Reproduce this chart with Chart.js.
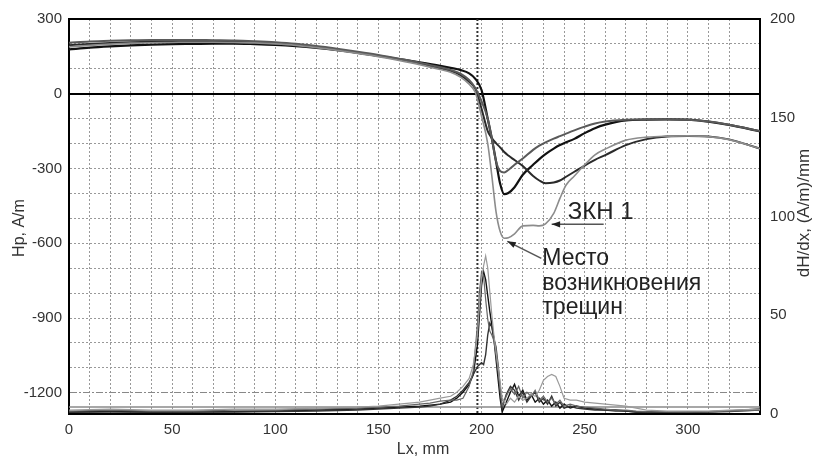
<!DOCTYPE html>
<html>
<head>
<meta charset="utf-8">
<script src="https://cdn.jsdelivr.net/npm/chart.js@4.4.1/dist/chart.umd.min.js"></script>
<style>
  html, body { margin: 0; padding: 0; background: #fff; }
  #wrap { width: 814px; height: 459px; position: relative; }
</style>
</head>
<body>
<div id="wrap"><canvas id="chart"></canvas></div>
<script>
// Hp curves, A/m (left axis)
const hx   = [0,10,20,30,40,50,60,70,80,90,100,110,120,130,140,150,160,170,180,185,190,194,197,200,203,205,207,209,211,213,216,220,225,228,231,235,238,241,245,250,255,260,270,280,290,300,310,320,335];
const hpA  = [178,185,190,194,197,199,200,201,201,199,196,191,184,175,164,152,139,126,112,104,95,82,60,15,-100,-180,-270,-360,-403,-398,-375,-325,-285,-262,-242,-220,-206,-195,-181,-158,-138,-124,-107,-104,-103,-104,-112,-125,-151];
const hpB  = [205,210,213,215,216,216,216,215,214,211,207,201,192,181,169,156,141,125,106,96,80,55,22,-30,-100,-180,-270,-310,-316,-306,-285,-260,-225,-208,-195,-180,-170,-160,-147,-132,-119,-111,-104,-102,-102,-104,-111,-124,-150];
const hpC  = [195,200,204,207,209,210,210,210,209,207,203,197,188,177,165,152,137,121,102,92,74,48,20,-60,-150,-178,-198,-215,-234,-248,-266,-290,-330,-348,-359,-356,-348,-333,-313,-288,-265,-246,-206,-182,-171,-169,-171,-183,-220];
const hpD  = [188,194,199,203,205,206,207,207,206,204,200,194,185,174,162,149,134,117,97,86,66,38,5,-90,-200,-330,-472,-552,-580,-578,-562,-530,-528,-530,-522,-480,-420,-366,-330,-285,-245,-222,-186,-174,-170,-169,-172,-184,-220];

// dH/dx curves, (A/m)/mm (right axis)
const dx = [0,20,40,60,80,100,120,140,150,160,170,175,180,185,188,191,194,196,198,199,200,201,202,203,204,205,206,207,208,209,210,212,214,216,218,220,222,224,226,228,230,232,234,236,238,240,243,246,250,255,260,265,270,275,280,290,300,310,320,335];
const dA = [1,1.5,1,1,1.2,1.5,2,2.5,3,3.5,4,4.5,5,6,8,11,15,20,35,50,65,72,68,60,52,45,38,28,18,8,1,6,11,15,9,12,7,10,6,8,5,7,4,6,3,5,3,4,3,2.5,2,2,1.5,1,1,0.8,1,1.2,1.5,2.5];
const dB = [1.5,2,1.5,1.5,2,2,2.5,3,3.5,4,5,5.5,6.5,7,7,8,14,22,45,62,72,70,58,48,42,40,37,30,22,12,4,9,13,10,14,8,11,9,12,7,9,6,8,5,7,4,5,4,3.5,3,2.5,2,2,1.5,1.2,1,1,1.2,1.5,2];
const dC = [2,2.5,2,2,2.5,2.5,3,3.5,4,5,6,7,8,9,11,14,18,25,40,55,68,75,80,74,62,50,40,32,24,16,8,5,8,6,9,7,8,10,9,12,17,19,20,19,14,8,7,7,6,5.5,5,4.5,4,3,2,1.5,1.5,1.5,2,2.5];
const dD = [0.8,1,0.8,1,1,1.2,1.5,2,2.5,3,3.5,4,5,7,9,12,16,20,24,25,26,25,30,40,46,44,38,34,25,14,3,10,14,12,7,11,6,9,11,6,8,5,9,4,6,3,4,3,2.5,2,2,1.5,1.5,1,1,0.8,0.8,1,1.2,2];

// reference level and crack position
const levelX = [0, 335];
const levelY = [3.5, 3.5];
const crackX = 198;

// tick labels
const xTickLabels = [0, 50, 100, 150, 200, 250, 300];
const hpTickLabels = [300, 0, -300, -600, -900, -1200];

const tickFont = { family: "'Liberation Sans', Arial, sans-serif", size: 15 };
const textFont = "'Liberation Sans', Arial, sans-serif";

function pts(xs, ys) {
    return xs.map((x, i) => ({ x: x, y: ys[i] }));
}

function arrow(ctx, x1, y1, x2, y2) {
    const a = Math.atan2(y2 - y1, x2 - x1);
    ctx.beginPath();
    ctx.moveTo(x1, y1);
    ctx.lineTo(x2, y2);
    ctx.stroke();
    ctx.beginPath();
    ctx.moveTo(x2, y2);
    ctx.lineTo(x2 - 9 * Math.cos(a - 0.35), y2 - 9 * Math.sin(a - 0.35));
    ctx.lineTo(x2 - 9 * Math.cos(a + 0.35), y2 - 9 * Math.sin(a + 0.35));
    ctx.closePath();
    ctx.fill();
}

const overlay = {
    id: 'overlay',
    beforeDatasetsDraw(chart) {
        const { ctx, chartArea, scales: { x } } = chart;
        const px = x.getPixelForValue(crackX);
        ctx.save();
        ctx.strokeStyle = '#333';
        ctx.lineWidth = 2;
        ctx.setLineDash([2, 2]);
        ctx.beginPath();
        ctx.moveTo(px, chartArea.top);
        ctx.lineTo(px, chartArea.bottom);
        ctx.stroke();
        ctx.restore();
    },
    afterDraw(chart) {
        const { ctx, scales: { x, y } } = chart;
        ctx.save();
        ctx.fillStyle = '#333';

        // axis titles
        ctx.font = '16px ' + textFont;
        ctx.textAlign = 'center';
        ctx.textBaseline = 'middle';
        ctx.fillText('Lx, mm', 423, 450);
        ctx.save();
        ctx.translate(20, 228);
        ctx.rotate(-Math.PI / 2);
        ctx.fillText('Hp, A/m', 0, 0);
        ctx.restore();
        ctx.save();
        ctx.font = '17px ' + textFont;
        ctx.translate(804, 213);
        ctx.rotate(-Math.PI / 2);
        ctx.fillText('dH/dx, (A/m)/mm', 0, 0);
        ctx.restore();

        // annotations
        ctx.strokeStyle = '#555';
        ctx.fillStyle = '#222';
        ctx.lineWidth = 1.5;
        ctx.textAlign = 'left';
        ctx.textBaseline = 'alphabetic';

        const zx = x.getPixelForValue(234), zy = y.getPixelForValue(-524);
        arrow(ctx, zx + 52, zy, zx, zy);
        ctx.font = '24px ' + textFont;
        ctx.fillText('ЗКН 1', zx + 16, zy - 5);

        const cx = x.getPixelForValue(212.5), cy = y.getPixelForValue(-592);
        arrow(ctx, cx + 34, cy + 17, cx, cy);
        ctx.font = '23px ' + textFont;
        ctx.fillText('Место', cx + 35, cy + 24);
        ctx.fillText('возникновения', cx + 35, cy + 49);
        ctx.fillText('трещин', cx + 35, cy + 73);
        ctx.restore();
    }
};

const hLine = (data, color, width) => ({
    data: data, yAxisID: 'y', borderColor: color, borderWidth: width,
    pointRadius: 0, cubicInterpolationMode: 'monotone', order: 1
});
const dLine = (data, color, width) => ({
    data: data, yAxisID: 'y2', borderColor: color, borderWidth: width,
    pointRadius: 0, tension: 0, order: 2
});

new Chart(document.getElementById('chart'), {
    type: 'line',
    data: {
        datasets: [
            hLine(pts(hx, hpD), '#8c8c8c', 1.6),
            hLine(pts(hx, hpB), '#5a5a5a', 2),
            hLine(pts(hx, hpC), '#2a2a2a', 2),
            hLine(pts(hx, hpA), '#111111', 2.2),
            dLine(pts(dx, dC), '#9a9a9a', 1.2),
            dLine(pts(dx, dB), '#666666', 1.2),
            dLine(pts(dx, dD), '#333333', 1.4),
            dLine(pts(dx, dA), '#111111', 1.4),
            dLine(pts(levelX, levelY), '#8a8a8a', 1.5)
        ]
    },
    options: {
        responsive: true,
        maintainAspectRatio: false,
        animation: false,
        layout: { padding: { top: 16, left: 0, right: 0, bottom: 0 } },
        plugins: { legend: { display: false }, tooltip: { enabled: false } },
        scales: {
            x: {
                type: 'linear', min: 0, max: 335,
                afterFit: s => { s.height = 45; },
                ticks: {
                    stepSize: 10, autoSkip: false, maxRotation: 0, padding: 7,
                    color: '#333', font: tickFont,
                    callback: v => xTickLabels.includes(v) ? String(v) : ''
                },
                grid: { color: '#999', lineWidth: 1, drawTicks: false },
                border: { color: '#000', width: 2, dash: [2, 2] }
            },
            y: {
                position: 'left', min: -1285, max: 300,
                afterFit: s => { s.width = 69; },
                ticks: {
                    stepSize: 100, autoSkip: false, padding: 7,
                    color: '#333', font: tickFont,
                    callback: v => hpTickLabels.includes(v) ? String(v) : ''
                },
                grid: {
                    drawTicks: false,
                    color: c => (c.tick && (c.tick.value === 0 || c.tick.value === 300)) ? '#000' : (c.tick && c.tick.value === -1200 ? '#888' : '#999'),
                    lineWidth: c => (c.tick && (c.tick.value === 0 || c.tick.value === 300)) ? 2 : 1
                },
                border: {
                    color: '#000', width: 2,
                    dash: c => {
                        if (!c.tick) return [];
                        if (c.tick.value === 0 || c.tick.value === 300) return [];
                        if (c.tick.value === -1200) return [7, 2, 2, 2];
                        return [2, 2];
                    }
                }
            },
            y2: {
                position: 'right', min: 0, max: 200,
                afterFit: s => { s.width = 54; },
                ticks: { stepSize: 50, padding: 10, color: '#333', font: tickFont },
                grid: { drawOnChartArea: false, drawTicks: false },
                border: { color: '#000', width: 2 }
            }
        }
    },
    plugins: [overlay]
});
</script>
</body>
</html>
